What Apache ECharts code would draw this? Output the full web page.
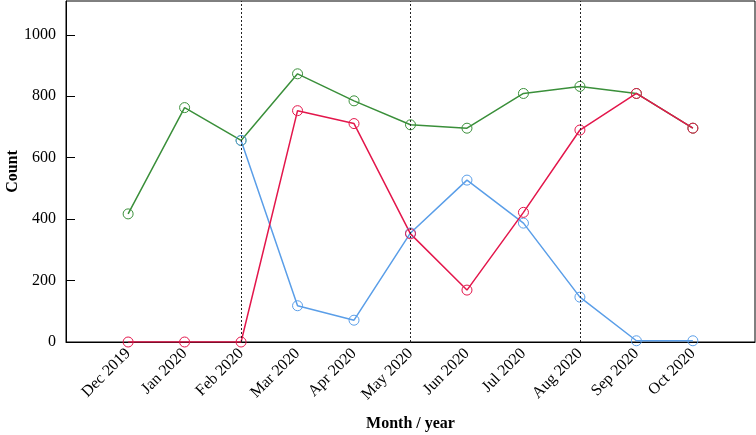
<!DOCTYPE html>
<html><head><meta charset="utf-8">
<script src="https://cdn.jsdelivr.net/npm/echarts@6/dist/echarts.min.js"></script>
<style>html,body{margin:0;padding:0;background:#fff}#c{width:756px;height:435px}</style>
</head><body><div id="c"></div>
<script>
const months = ['Dec 2019','Jan 2020','Feb 2020','Mar 2020','Apr 2020','May 2020','Jun 2020','Jul 2020','Aug 2020','Sep 2020','Oct 2020'];
const greenVals = [417, 763, 656, 873, 785, 707, 696, 809, 832, 809, 696];
const blueVals  = [null, null, 656, 118, 71, 355, 527, 387, 146, 4, 4];
const redVals   = [0, 0, 0, 753, 711, 352, 169, 422, 690, 809, 696];
const markerMonths = [2, 5, 8];
const yTicks = [0, 200, 400, 600, 800, 1000];

const toPairs = arr => arr.map((v,i)=> v==null ? null : [i, v]).filter(p=>p);
const font = 'Liberation Serif';
function mk(name, vals, color, extra){
  return Object.assign({
    name, type:'line', data: toPairs(vals),
    symbol:'circle', symbolSize:10,
    lineStyle:{color, width:1.5},
    itemStyle:{color:'rgba(255,255,255,0)', borderColor:color, borderWidth:1},
    emphasis:{disabled:true},
    animation:false
  }, extra||{});
}
const chart = echarts.init(document.getElementById('c'));
chart.setOption({
  animation:false,
  grid:{left:66, right:1, top:1, bottom:93, containLabel:false, outerBoundsMode:'none',
    show:true, borderColor:'#000', borderWidth:1},
  xAxis:{
    type:'value', min:-1.1, max:11.1,
    name:'Month / year', nameLocation:'middle', nameGap:74, nameMoveOverlap:false,
    nameTextStyle:{fontFamily:font, fontWeight:'bold', fontSize:16, color:'#000'},
    axisLine:{show:true, onZero:false, lineStyle:{color:'#000', width:1}},
    axisTick:{show:false},
    splitLine:{show:false},
    axisLabel:{customValues: months.map((m,i)=>i), formatter: v => months[Math.round(v)],
      rotate:45, fontFamily:font, fontSize:16, color:'#000', margin:9}
  },
  yAxis:{
    type:'value', min:0, max:1110,
    name:'Count', nameLocation:'middle', nameGap:45, nameMoveOverlap:false,
    nameTextStyle:{fontFamily:font, fontWeight:'bold', fontSize:16, color:'#000'},
    axisLine:{show:true, onZero:false, lineStyle:{color:'#000', width:1}},
    axisTick:{show:true, inside:true, length:9, customValues: yTicks, lineStyle:{color:'#000'}},
    splitLine:{show:false},
    axisLabel:{customValues: yTicks, formatter: v => String(v), fontFamily:font, fontSize:16, color:'#000', margin:10}
  },
  series:[
    mk('green', greenVals, '#3a8f3a', {
      markLine:{silent:true, symbol:'none', label:{show:false},
        lineStyle:{color:'#222', type:[2,2], width:1},
        data: markerMonths.map(i=>({xAxis:i}))}
    }),
    mk('blue', blueVals, '#5a9ee8'),
    mk('red', redVals, '#e3164b')
  ]
});
</script></body></html>
